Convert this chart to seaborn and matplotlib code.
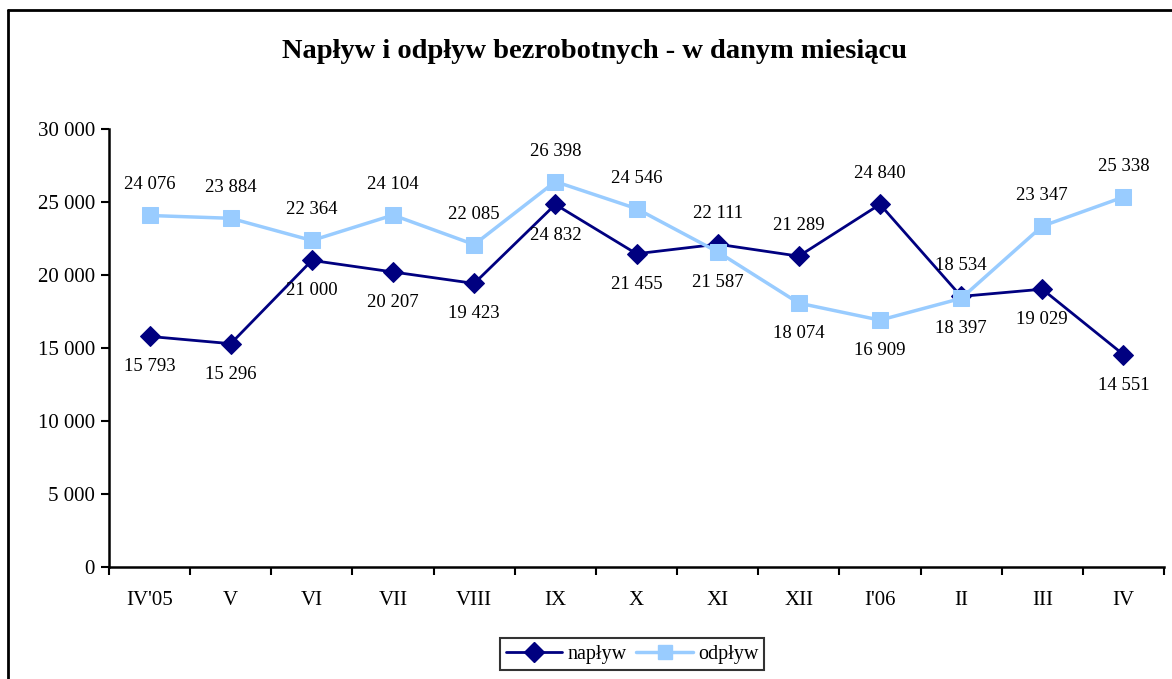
import matplotlib
matplotlib.use("Agg")
import matplotlib.pyplot as plt
import matplotlib.ticker as mticker
from matplotlib.lines import Line2D
import numpy as np
import pandas as pd
import seaborn as sns

months = ["IV'05", "V", "VI", "VII", "VIII", "IX", "X", "XI", "XII", "I'06", "II", "III", "IV"]
naplyw = [15793, 15296, 21000, 20207, 19423, 24832, 21455, 22111, 21289, 24840, 18534, 19029, 14551]
odplyw = [24076, 23884, 22364, 24104, 22085, 26398, 24546, 21587, 18074, 16909, 18397, 23347, 25338]
# +1 label above the marker, -1 below
naplyw_side = [-1, -1, -1, -1, -1, -1, -1, 1, 1, 1, 1, -1, -1]
odplyw_side = [1, 1, 1, 1, 1, 1, 1, -1, -1, -1, -1, 1, 1]

NAVY = "#000080"
LIGHT = "#99CCFF"

sns.set_theme(style="white")
plt.rcParams["font.family"] = ["Liberation Serif", "DejaVu Serif"]
plt.rcParams["text.color"] = "black"
plt.rcParams["xtick.color"] = "black"
plt.rcParams["ytick.color"] = "black"

df = pd.DataFrame({
    "pos": np.arange(len(months)),
    "napływ": naplyw,
    "odpływ": odplyw,
})

fig = plt.figure(figsize=(11.72, 6.79), dpi=100)
ax = fig.add_axes([109 / 1172, 1 - 567 / 679, (1164 - 109) / 1172, (567 - 129) / 679])

sns.lineplot(data=df, x="pos", y="napływ", ax=ax, color=NAVY, lw=2,
             marker="D", markersize=10, markeredgecolor=NAVY)
sns.lineplot(data=df, x="pos", y="odpływ", ax=ax, color=LIGHT, lw=2.5,
             marker="s", markersize=11, markeredgecolor=LIGHT)


def fmt(v):
    return f"{v:,}".replace(",", " ")


for series, sides in ((naplyw, naplyw_side), (odplyw, odplyw_side)):
    for i, (v, s) in enumerate(zip(series, sides)):
        ax.annotate(fmt(v), (i, v), xytext=(0, 22 * s), textcoords="offset points",
                    ha="center", va="center", fontsize=13.5, color="black")

ax.set_xlim(-0.5, len(months) - 0.5)
ax.set_ylim(0, 30000)
ax.yaxis.set_major_locator(mticker.MultipleLocator(5000))
ax.yaxis.set_major_formatter(mticker.FuncFormatter(lambda v, p: fmt(int(v))))

ax.xaxis.set_major_locator(mticker.FixedLocator(np.arange(-0.5, len(months), 1)))
ax.xaxis.set_major_formatter(mticker.NullFormatter())
ax.xaxis.set_minor_locator(mticker.FixedLocator(np.arange(len(months))))
ax.xaxis.set_minor_formatter(mticker.FixedFormatter(months))
ax.tick_params(axis="x", which="major", direction="out", length=6, width=1.5, color="black", bottom=True)
ax.tick_params(axis="x", which="minor", length=0, labelsize=15, pad=17, bottom=True)
ax.tick_params(axis="y", direction="out", length=6, width=1.5, color="black", labelsize=15, pad=4, left=True)

ax.set_xlabel("")
ax.set_ylabel("")
for side in ("top", "right"):
    ax.spines[side].set_visible(False)
for side in ("left", "bottom"):
    ax.spines[side].set_color("black")
    ax.spines[side].set_linewidth(1.8)

fig.text(0.5 + 8 / 1172, 1 - 51 / 679, "Napływ i odpływ bezrobotnych - w danym miesiącu",
         ha="center", va="center", fontsize=20.5, fontweight="bold", color="black")

handles = [
    Line2D([], [], color=NAVY, lw=2, marker="D", markersize=10, markeredgecolor=NAVY),
    Line2D([], [], color=LIGHT, lw=2.5, marker="s", markersize=10, markeredgecolor=LIGHT),
]
leg = fig.legend(handles, ["napływ", "odpływ"], loc="center", bbox_to_anchor=(632 / 1172, 1 - 654 / 679),
                 ncol=2, fontsize=14.5, frameon=True, fancybox=False, handlelength=2.8,
                 columnspacing=0.5, handletextpad=0.25, borderpad=0.3)
leg.get_frame().set_edgecolor("black")
leg.get_frame().set_linewidth(1.5)

# outer chart border (top and left visible, rest cut off)
fig.add_artist(Line2D([8 / 1172, 1.0], [1 - 10 / 679, 1 - 10 / 679], color="black", lw=2,
                      transform=fig.transFigure))
fig.add_artist(Line2D([8 / 1172, 8 / 1172], [0, 1 - 10 / 679], color="black", lw=2,
                      transform=fig.transFigure))

fig.savefig("out.png", dpi=100)
